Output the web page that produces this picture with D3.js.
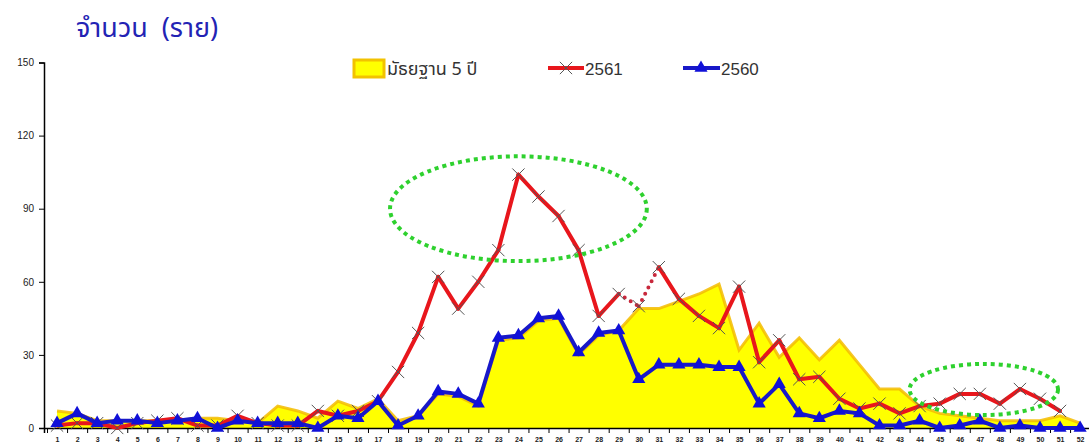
<!DOCTYPE html>
<html>
<head>
<meta charset="utf-8">
<script src="https://cdn.jsdelivr.net/npm/d3@7"></script>
<style>
	body { margin: 0; background: #fff; }
	text { font-family: "Liberation Sans", Arial, sans-serif; }
</style>
</head>
<body>
<div id="chart-area"></div>
<script>
// week numbers 1..52
const weeks = d3.range(1, 53)
const yTicks = [0, 30, 60, 90, 120, 150]

// median of the last 5 years
const median5 = [7, 6, 3, 3, 3, 3, 3, 4, 4, 3, 2, 9, 7, 4, 11, 8, 12, 3, 5, 14,
	13, 9, 36, 37, 44, 45, 30, 38, 40, 49, 49, 52, 55, 59, 32, 43, 29, 37, 28, 36,
	26, 16, 16, 9, 6, 5, 4, 3, 3, 3, 5, 2]
// year 2561
const y2561 = [1, 2, 2, 0, 2, 3, 4, 1, 1, 5, 2, 1, 1, 7, 5, 7, 11, 23, 39, 62,
	49, 60, 73, 104, 95, 87, 73, 46, 55, 50, 66, 53, 46, 41, 58, 27, 36, 20, 21, 12,
	8, 10, 6, 9, 10, 14, 14, 10, 16, 12, 7, null]
// year 2560
const y2560 = [2, 6, 2, 3, 3, 2, 3, 4, 0, 3, 2, 2, 2, 0, 5, 4, 11, 1, 5, 15,
	14, 10, 37, 38, 45, 46, 31, 39, 40, 20, 26, 26, 26, 25, 25, 10, 18, 6, 4, 7,
	6, 1, 1, 3, 0, 1, 3, 0, 1, 0, 0, 0]
// 2561 drawn dotted between these weeks
const dottedWeeks = [29, 31]
// green dotted ellipses: centre (week, value), half width in weeks, half height in cases
const highlights = [
	{week: 24, value: 90, halfWeeks: 6.4, halfValue: 21.5},
	{week: 47.2, value: 15.8, halfWeeks: 3.7, halfValue: 10.5}
]

const W = 1089
const H = 446

const svg = d3.select("#chart-area").append("svg")
	.attr("width", W)
	.attr("height", H)

const x = d3.scaleLinear()
	.domain([0.35, 52.5])
	.range([44, 44 + 52.15 * 20.06])

const y = d3.scaleLinear()
	.domain([0, 150])
	.range([428, 62.5])

// title
svg.append("text")
	.attr("x", 76)
	.attr("y", 37)
	.attr("font-size", "27px")
	.attr("fill", "#2323b4")
	.style("font-family", "'Noto Sans Thai', 'Noto Sans', sans-serif")
	.style("white-space", "pre")
	.text("จำนวน  (ราย)")

// median area
const area = d3.area()
	.x((d, i) => x(weeks[i]))
	.y0(y(0))
	.y1(d => y(d))

svg.append("path")
	.datum(median5)
	.attr("d", area)
	.attr("fill", "#ffff00")

svg.append("path")
	.datum(median5)
	.attr("d", d3.line().x((d, i) => x(weeks[i])).y(d => y(d)))
	.attr("fill", "none")
	.attr("stroke", "#f3bc00")
	.attr("stroke-width", 3)
	.attr("stroke-opacity", 0.85)

// axes
const yAxisCall = d3.axisLeft(y)
	.tickValues(yTicks)
	.tickSize(5)
	.tickPadding(5)
const yAxis = svg.append("g")
	.attr("transform", "translate(44, 0)")
	.call(yAxisCall)
yAxis.select(".domain").attr("stroke", "#000").attr("stroke-width", 1.5)
yAxis.selectAll("text").attr("font-size", "10px").attr("fill", "#222")

const xTickCall = d3.axisBottom(x)
	.tickValues(d3.range(0.5, 52.5, 1))
	.tickSize(5)
	.tickFormat("")
const xAxis = svg.append("g")
	.attr("transform", `translate(0, ${y(0)})`)
	.call(xTickCall)
xAxis.select(".domain").attr("stroke", "#000").attr("stroke-width", 1.5)

const xLabelCall = d3.axisBottom(x)
	.tickValues(weeks)
	.tickSize(0)
	.tickPadding(9)
const xLabels = svg.append("g")
	.attr("transform", `translate(0, ${y(0)})`)
	.call(xLabelCall)
xLabels.select(".domain").remove()
xLabels.selectAll("text")
	.attr("font-size", "7px")
	.attr("font-weight", "bold")
	.attr("fill", "#222")

// 2561 line, solid except the dotted stretch
const pts2561 = weeks.map((w, i) => ({week: w, v: y2561[i]})).filter(d => d.v != null)
const isDotted = d => d[0].week >= dottedWeeks[0] && d[1].week <= dottedWeeks[1]
svg.selectAll(".seg2561")
	.data(d3.pairs(pts2561))
	.enter().append("line")
	.attr("class", "seg2561")
	.attr("x1", d => x(d[0].week))
	.attr("y1", d => y(d[0].v))
	.attr("x2", d => x(d[1].week))
	.attr("y2", d => y(d[1].v))
	.attr("stroke", d => isDotted(d) ? "#c8283c" : "#e8161c")
	.attr("stroke-width", 4)
	.attr("stroke-linecap", "round")
	.attr("stroke-dasharray", d => isDotted(d) ? "0,7" : null)

const cross = d3.symbol().type(d3.symbolTimes).size(100)
svg.selectAll(".m2561")
	.data(pts2561)
	.enter().append("path")
	.attr("class", "m2561")
	.attr("transform", d => `translate(${x(d.week)}, ${y(d.v)})`)
	.attr("d", cross)
	.attr("fill", "none")
	.attr("stroke", "#555")
	.attr("stroke-width", 1)

// 2560 line
svg.append("path")
	.datum(y2560)
	.attr("d", d3.line().x((d, i) => x(weeks[i])).y(d => y(d)))
	.attr("fill", "none")
	.attr("stroke", "#1818c8")
	.attr("stroke-width", 4)
	.attr("stroke-linejoin", "round")

const tri = d3.symbol().type(d3.symbolTriangle).size(75)
svg.selectAll(".m2560")
	.data(y2560)
	.enter().append("path")
	.attr("class", "m2560")
	.attr("transform", (d, i) => `translate(${x(weeks[i])}, ${y(d)})`)
	.attr("d", tri)
	.attr("fill", "#1010d8")

// green highlight ellipses
svg.selectAll(".hl")
	.data(highlights)
	.enter().append("ellipse")
	.attr("class", "hl")
	.attr("cx", d => x(d.week))
	.attr("cy", d => y(d.value))
	.attr("rx", d => x(d.week + d.halfWeeks) - x(d.week))
	.attr("ry", d => y(0) - y(d.halfValue))
	.attr("fill", "none")
	.attr("stroke", "#2ed12e")
	.attr("stroke-width", 4)
	.attr("stroke-dasharray", "4,4")

// legend
const legend = svg.append("g")
legend.append("rect")
	.attr("x", 354)
	.attr("y", 60)
	.attr("width", 30)
	.attr("height", 17)
	.attr("fill", "#ffff00")
	.attr("stroke", "#f2c200")
	.attr("stroke-width", 3)
legend.append("text")
	.attr("x", 387)
	.attr("y", 75)
	.attr("font-size", "18px")
	.attr("fill", "#333")
	.style("font-family", "'Noto Sans Thai', 'Noto Sans', sans-serif")
	.text("มัธยฐาน 5 ปี")

legend.append("line")
	.attr("x1", 548).attr("x2", 584)
	.attr("y1", 68).attr("y2", 68)
	.attr("stroke", "#e8161c")
	.attr("stroke-width", 4)
legend.append("path")
	.attr("transform", "translate(566, 68)")
	.attr("d", cross)
	.attr("fill", "none")
	.attr("stroke", "#555")
	.attr("stroke-width", 1)
legend.append("text")
	.attr("x", 585)
	.attr("y", 75)
	.attr("font-size", "17px")
	.attr("fill", "#333")
	.text("2561")

legend.append("line")
	.attr("x1", 683).attr("x2", 720)
	.attr("y1", 68).attr("y2", 68)
	.attr("stroke", "#1818c8")
	.attr("stroke-width", 4)
legend.append("path")
	.attr("transform", "translate(701, 68)")
	.attr("d", tri)
	.attr("fill", "#1010d8")
legend.append("text")
	.attr("x", 721)
	.attr("y", 75)
	.attr("font-size", "17px")
	.attr("fill", "#333")
	.text("2560")
</script>
</body>
</html>
